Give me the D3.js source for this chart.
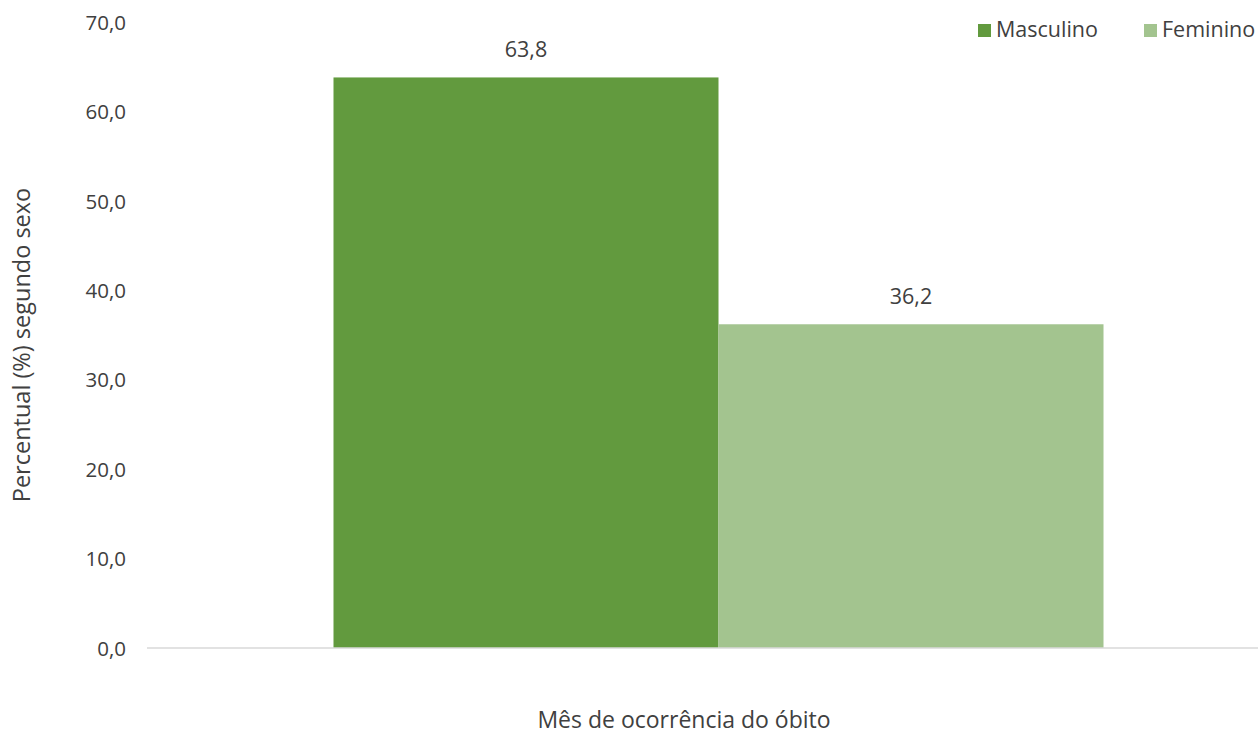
<!DOCTYPE html>
<html><head><meta charset="utf-8">
<script src="https://cdn.jsdelivr.net/npm/d3@7"></script>
<style>
html,body{margin:0;padding:0;background:#fff;overflow:hidden}
text{font-family:"Open Sans",sans-serif;fill:#404040}
</style></head>
<body><svg id="c" width="1258" height="736"></svg>
<script>
const categories = ["Mês de ocorrência do óbito"];
const seriesNames = ["Masculino", "Feminino"];
const seriesValues = [63.8, 36.2];
const seriesColors = ["#629A3E", "#A3C48F"];
const yTicks = [0, 10, 20, 30, 40, 50, 60, 70];

const svg = d3.select("#c");
const fmt = v => v.toFixed(1).replace(".", ",");

const y = d3.scaleLinear().domain([0, 70]).range([648, 22]);
const x0 = d3.scaleBand().domain(categories).range([147, 1290]).paddingOuter(0.2422).paddingInner(0);
const x1 = d3.scaleBand().domain(seriesNames).range([0, x0.bandwidth()]).padding(0);

// y axis labels
const yAxis = d3.axisLeft(y).tickValues(yTicks).tickFormat(fmt).tickSize(0).tickPadding(0);
const ga = svg.append("g").attr("transform", "translate(126,0)").call(yAxis);
ga.select(".domain").remove();
ga.selectAll("text").style("font-size", "20.5px").attr("fill", "#404040").attr("dy", "0.35em");

// bars
const g = svg.append("g");
categories.forEach(cat => {
  seriesNames.forEach((s, i) => {
    g.append("rect")
      .attr("x", x0(cat) + x1(s))
      .attr("y", y(seriesValues[i]))
      .attr("width", x1.bandwidth())
      .attr("height", y(0) - y(seriesValues[i]))
      .attr("fill", seriesColors[i]);
    g.append("text")
      .attr("x", x0(cat) + x1(s) + x1.bandwidth() / 2)
      .attr("y", y(seriesValues[i]) - 20)
      .attr("text-anchor", "middle")
      .style("font-size", "21.5px")
      .text(fmt(seriesValues[i]));
  });
});

// baseline
svg.append("line").attr("x1", 147).attr("x2", 1290).attr("y1", y(0)).attr("y2", y(0))
  .attr("stroke", "#d9d9d9").attr("stroke-width", 1.5);

// x title
svg.append("text").attr("x", 684).attr("y", 728).attr("text-anchor", "middle")
  .style("font-size", "23px").text(categories[0]);

// y title
svg.append("text").attr("transform", "translate(30,345) rotate(-90)").attr("text-anchor", "middle")
  .style("font-size", "23.5px").text("Percentual (%) segundo sexo");

// legend
const legX = [978, 1144];
seriesNames.forEach((s, i) => {
  svg.append("rect").attr("x", legX[i]).attr("y", 24).attr("width", 13).attr("height", 13).attr("fill", seriesColors[i]);
  svg.append("text").attr("x", legX[i] + 18).attr("y", 37).style("font-size", "21.5px").text(s);
});
</script></body></html>
